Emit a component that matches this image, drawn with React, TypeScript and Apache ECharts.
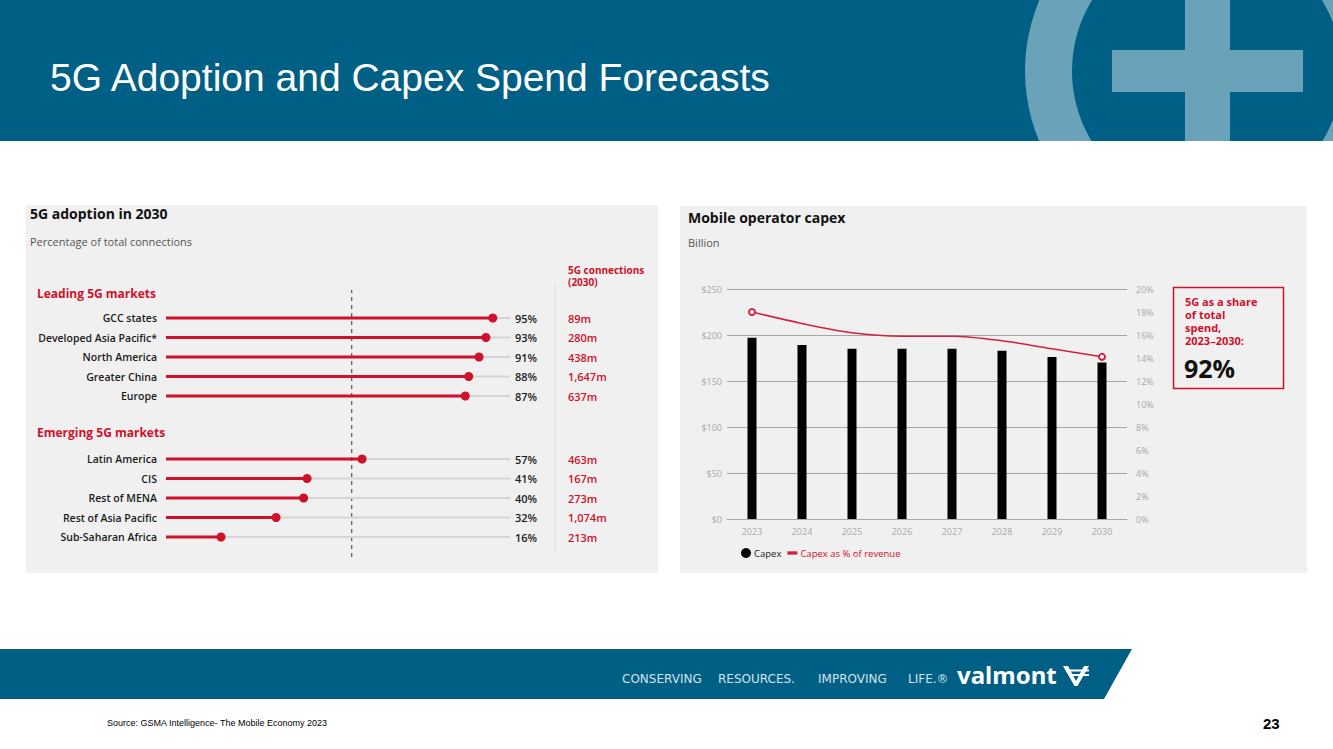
import React, { useEffect, useRef } from "react";
import * as echarts from "echarts";

// ---------- Data ----------
const leadingMarkets = ["GCC states", "Developed Asia Pacific*", "North America", "Greater China", "Europe"];
const leadingPct = [95, 93, 91, 88, 87];
const leadingConn = ["89m", "280m", "438m", "1,647m", "637m"];

const emergingMarkets = ["Latin America", "CIS", "Rest of MENA", "Rest of Asia Pacific", "Sub-Saharan Africa"];
const emergingPct = [57, 41, 40, 32, 16];
const emergingConn = ["463m", "167m", "273m", "1,074m", "213m"];

const globalAvg = 54;

const years = ["2023", "2024", "2025", "2026", "2027", "2028", "2029", "2030"];
const capex = [197, 189, 185, 185, 185, 183, 176, 170];
const capexPctRevenue = [18.0, 17.0, 16.2, 15.9, 15.9, 15.5, 14.8, 14.1];

const calloutLines = ["5G as a share", "of total", "spend,", "2023\u20132030:"];
const calloutValue = "92%";

const taglineWords = ["CONSERVING", "RESOURCES.", "IMPROVING", "LIFE.\u00ae"];

const RED = "#d0112b";
const BLUE = "#005f85";
const LIGHTBLUE = "#6aa2ba";
const PANEL = "#f0f0f0";
const FONT = "'Open Sans', 'Noto Sans', sans-serif";
const ARIAL = "'Liberation Sans', Arial, sans-serif";

function txt(x: number, y: number, text: string, o: any = {}) {
  return {
    type: "text",
    x,
    y,
    z: 20,
    style: {
      text,
      fill: o.fill || "#111",
      fontSize: o.fontSize || 11,
      fontWeight: o.fontWeight || "normal",
      fontFamily: o.fontFamily || FONT,
      align: o.align || "left",
      verticalAlign: "middle",
      textAlign: o.align || "left",
      textVerticalAlign: "middle",
    },
  };
}

function lollipopSeries(gridIdx: number, yMain: number, yTrack: number, pct: number[], conn: string[]) {
  return [
    {
      type: "bar",
      xAxisIndex: gridIdx,
      yAxisIndex: yTrack,
      data: pct.map(() => 100),
      barWidth: 2,
      itemStyle: { color: "#d5d5d5" },
      silent: true,
      z: 2,
      label: {
        show: true,
        position: "right",
        distance: 5,
        formatter: (p: any) => `{p|${pct[p.dataIndex]}%}{c|${conn[p.dataIndex]}}`,
        rich: {
          p: { width: 53, fontSize: 11, fontWeight: 600, color: "#1a1a1a", fontFamily: FONT },
          c: { fontSize: 11, fontWeight: 600, color: RED, fontFamily: FONT },
        },
      },
    },
    {
      type: "bar",
      xAxisIndex: gridIdx,
      yAxisIndex: yMain,
      data: pct,
      barWidth: 3,
      itemStyle: { color: RED },
      z: 3,
    },
    {
      type: "scatter",
      xAxisIndex: gridIdx,
      yAxisIndex: yMain,
      data: pct.map((v, i) => [v, i]),
      symbolSize: 9,
      itemStyle: { color: RED, opacity: 1 },
      z: 4,
    },
  ];
}

const catLabel = {
  color: "#1a1a1a",
  fontSize: 10.5,
  fontWeight: 600,
  fontFamily: FONT,
  margin: 9,
};

export default function App() {
  const ref = useRef<HTMLDivElement>(null);

  useEffect(() => {
    if (!ref.current) return;
    const chart = echarts.init(ref.current, undefined, { renderer: "svg" });

    const lineData = capexPctRevenue.map((v, i) => ({
      value: v,
      symbol: i === 0 || i === capexPctRevenue.length - 1 ? "emptyCircle" : "none",
    }));

    const taglineX = [622, 718, 818, 908];

    const option: any = {
      animation: false,
      backgroundColor: "#ffffff",
      grid: [
        { left: 166, width: 344, top: 308.25, height: 97.5 },
        { left: 166, width: 344, top: 449.25, height: 97.5 },
        { left: 166, width: 344, top: 290, height: 267 },
        { left: 727, width: 400, top: 289, height: 230 },
      ],
      xAxis: [
        { gridIndex: 0, type: "value", min: 0, max: 100, show: false },
        { gridIndex: 1, type: "value", min: 0, max: 100, show: false },
        { gridIndex: 2, type: "value", min: 0, max: 100, show: false },
        {
          gridIndex: 3,
          type: "category",
          data: years,
          axisLine: { lineStyle: { color: "#aaaaaa", width: 1 } },
          axisTick: { show: false },
          axisLabel: { color: "#a8a8a8", fontSize: 9, fontFamily: FONT, margin: 8 },
        },
      ],
      yAxis: [
        {
          gridIndex: 0,
          type: "category",
          data: leadingMarkets,
          inverse: true,
          axisLine: { show: false },
          axisTick: { show: false },
          axisLabel: catLabel,
        },
        { gridIndex: 0, type: "category", data: leadingMarkets, inverse: true, show: false },
        {
          gridIndex: 1,
          type: "category",
          data: emergingMarkets,
          inverse: true,
          axisLine: { show: false },
          axisTick: { show: false },
          axisLabel: catLabel,
        },
        { gridIndex: 1, type: "category", data: emergingMarkets, inverse: true, show: false },
        { gridIndex: 2, type: "value", min: 0, max: 1, show: false },
        {
          gridIndex: 3,
          type: "value",
          min: 0,
          max: 250,
          interval: 50,
          axisLine: { show: false },
          axisTick: { show: false },
          axisLabel: { color: "#a8a8a8", fontSize: 9, fontFamily: FONT, margin: 5, formatter: "${value}" },
          splitLine: { lineStyle: { color: "#a6a6a6", width: 1 } },
        },
        {
          gridIndex: 3,
          type: "value",
          position: "right",
          min: 0,
          max: 20,
          interval: 2,
          axisLine: { show: false },
          axisTick: { show: false },
          axisLabel: { color: "#a8a8a8", fontSize: 9, fontFamily: FONT, margin: 9, formatter: "{value}%" },
          splitLine: { show: false },
        },
      ],
      legend: {
        left: 736,
        top: 543,
        itemWidth: 10,
        itemHeight: 10,
        itemGap: 6,
        textStyle: { fontSize: 9.5, fontFamily: FONT, padding: [0, 0, 0, -2] },
        data: [
          { name: "Capex", icon: "circle", textStyle: { color: "#222" } },
          {
            name: "Capex as % of revenue",
            icon: "path://M0,3h12v4h-12z",
            textStyle: { color: RED },
          },
        ],
      },
      series: [
        ...lollipopSeries(0, 0, 1, leadingPct, leadingConn),
        ...lollipopSeries(1, 2, 3, emergingPct, emergingConn),
        {
          type: "line",
          xAxisIndex: 2,
          yAxisIndex: 4,
          data: [
            [globalAvg, 0],
            {
              value: [globalAvg, 1],
              label: {
                show: true,
                position: "top",
                distance: 6,
                formatter: `Global average ${globalAvg}%`,
                color: "#1a1a1a",
                fontSize: 9.5,
                fontWeight: 600,
                fontFamily: FONT,
              },
            },
          ],
          symbol: "none",
          lineStyle: { color: "#333", width: 1, type: [4, 4] },
          silent: true,
          z: 1,
        },
        {
          name: "Capex",
          type: "bar",
          xAxisIndex: 3,
          yAxisIndex: 5,
          data: capex,
          barWidth: 9,
          itemStyle: { color: "#000" },
        },
        {
          name: "Capex as % of revenue",
          type: "line",
          xAxisIndex: 3,
          yAxisIndex: 6,
          data: lineData,
          smooth: 0.3,
          symbolSize: 6,
          showAllSymbol: true,
          lineStyle: { color: "#d4213d", width: 1.5 },
          itemStyle: { color: "#d4213d", borderWidth: 1.5 },
          z: 5,
        },
      ],
      graphic: [
        // header
        { type: "rect", z: -20, shape: { x: 0, y: 0, width: 1333, height: 141 }, style: { fill: BLUE } },
        { type: "ring", z: -19, shape: { cx: 1207, cy: 71, r: 182, r0: 135 }, style: { fill: LIGHTBLUE } },
        { type: "rect", z: -19, shape: { x: 1112, y: 50, width: 191, height: 42 }, style: { fill: LIGHTBLUE } },
        { type: "rect", z: -19, shape: { x: 1185, y: 0, width: 45, height: 141 }, style: { fill: LIGHTBLUE } },
        { type: "rect", z: -18, shape: { x: 980, y: 141, width: 353, height: 130 }, style: { fill: "#ffffff" } },
        txt(50, 77, "5G Adoption and Capex Spend Forecasts", { fill: "#ffffff", fontSize: 39, fontFamily: ARIAL }),
        // panels
        { type: "rect", z: -15, shape: { x: 26, y: 205, width: 632, height: 368 }, style: { fill: PANEL } },
        { type: "rect", z: -15, shape: { x: 680, y: 206, width: 627, height: 367 }, style: { fill: PANEL } },
        // left panel texts
        txt(30, 213, "5G adoption in 2030", { fontSize: 14, fontWeight: "bold" }),
        txt(30, 241, "Percentage of total connections", { fontSize: 11, fill: "#555" }),
        txt(568, 270, "5G connections", { fontSize: 10, fontWeight: "bold", fill: RED }),
        txt(568, 282, "(2030)", { fontSize: 10, fontWeight: "bold", fill: RED }),
        txt(37, 293, "Leading 5G markets", { fontSize: 12, fontWeight: "bold", fill: RED }),
        txt(37, 432, "Emerging 5G markets", { fontSize: 12, fontWeight: "bold", fill: RED }),
        {
          type: "line",
          z: -10,
          shape: { x1: 555, y1: 284, x2: 555, y2: 551 },
          style: { stroke: "#dcdcdc", lineWidth: 1 },
        },
        // right panel texts
        txt(688, 217, "Mobile operator capex", { fontSize: 14, fontWeight: "bold" }),
        txt(688, 242, "Billion", { fontSize: 11, fill: "#555" }),
        {
          type: "rect",
          z: 10,
          shape: { x: 1173.5, y: 287.5, width: 110, height: 101 },
          style: { fill: "none", stroke: RED, lineWidth: 1.5 },
        },
        ...calloutLines.map((t, i) => txt(1185, 301 + i * 13, t, { fontSize: 11, fontWeight: "bold", fill: RED })),
        txt(1184, 368, calloutValue, { fontSize: 25, fontWeight: "bold", fill: "#111" }),
        // footer band
        {
          type: "polygon",
          z: -10,
          shape: { points: [[0, 649], [1132, 649], [1104, 699], [0, 699]] },
          style: { fill: BLUE },
        },
        ...taglineWords.map((w, i) =>
          txt(taglineX[i], 679, w, { fontSize: 12, fill: "#d3e3ea", fontFamily: "'DejaVu Sans', sans-serif" })
        ),
        txt(957, 674, "valmont", { fontSize: 24, fontWeight: "bold", fill: "#ffffff", fontFamily: "'Noto Sans', sans-serif" }),
        {
          type: "polygon",
          z: 10,
          shape: {
            points: [[1063, 666], [1068, 666], [1076, 681], [1084, 666], [1089, 666], [1077.5, 686], [1074.5, 686]],
          },
          style: { fill: "#ffffff" },
        },
        { type: "rect", z: 10, shape: { x: 1066, y: 669.5, width: 23, height: 2 }, style: { fill: "#ffffff" } },
        { type: "rect", z: 10, shape: { x: 1070, y: 674, width: 19, height: 2 }, style: { fill: "#ffffff" } },
        // bottom
        txt(107, 723, "Source: GSMA Intelligence- The Mobile Economy 2023", { fontSize: 9, fill: "#000", fontFamily: ARIAL }),
        txt(1263, 723, "23", { fontSize: 15, fontWeight: "bold", fill: "#000", fontFamily: ARIAL }),
      ],
    };

    chart.setOption(option);
    return () => chart.dispose();
  }, []);

  return (
    <div
      ref={ref}
      style={{ position: "fixed", left: 0, top: 0, width: 1333, height: 749, background: "#fff" }}
    />
  );
}
